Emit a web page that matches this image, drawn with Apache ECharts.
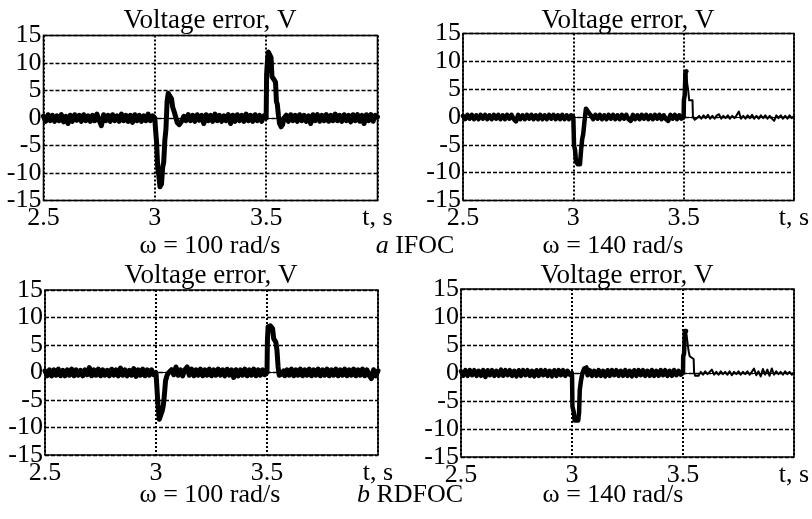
<!DOCTYPE html>
<html>
<head>
<meta charset="utf-8">
<script src="https://cdn.jsdelivr.net/npm/echarts@6/dist/echarts.min.js"></script>
<style>html,body{margin:0;padding:0;background:#fff}#c{width:812px;height:519px}</style>
</head>
<body>
<div id="c"></div>
<script>
// ---------- tick labels / text ----------
const yTicks = [-15, -10, -5, 0, 5, 10, 15];
const xTicks = [2.5, 3, 3.5, 4];
const xLastLabel = 't, s';
const panelTitle = 'Voltage error, V';
const speedLabels = ['ω = 100 rad/s', 'ω = 140 rad/s', 'ω = 100 rad/s', 'ω = 140 rad/s'];
const methodLabels = [['a', 'IFOC'], ['b', 'RDFOC']];

// ---------- (a) IFOC, ω = 100 rad/s ----------
const ifoc100 = [
[2.50,0.3],[2.51,-0.6],[2.52,0.6],[2.53,-0.5],[2.54,0.5],[2.55,-0.6],[2.56,0.4],[2.57,-0.5],[2.58,0.6],[2.59,-0.7],
[2.60,0.3],[2.61,-1.0],[2.62,0.5],[2.63,-0.6],[2.64,0.6],[2.65,-0.4],[2.66,0.5],[2.67,-0.6],[2.68,0.6],[2.69,-0.5],
[2.70,0.4],[2.71,-0.6],[2.72,0.5],[2.73,-0.5],[2.74,0.7],[2.75,-0.4],[2.76,-1.4],[2.77,0.6],[2.78,-0.5],[2.79,0.5],
[2.80,-0.6],[2.81,0.6],[2.82,-0.5],[2.83,0.4],[2.84,-0.6],[2.85,0.7],[2.86,-0.5],[2.87,0.5],[2.88,-0.6],[2.89,0.5],
[2.90,-0.8],[2.91,0.6],[2.92,-0.5],[2.93,0.5],[2.94,-0.6],[2.95,0.4],[2.96,-0.5],[2.97,0.7],[2.98,-0.5],[2.99,0.4],
[3.000,0],[3.003,-2],[3.008,-4.5],[3.013,-9],[3.018,-10.5],[3.023,-12.5],[3.030,-12],[3.035,-9],[3.040,-8],[3.045,-4],
[3.050,-2],[3.055,3],[3.060,4.5],[3.068,4.5],[3.075,3.5],[3.080,2],[3.088,1],[3.095,0],[3.100,-0.8],[3.110,-1.2],[3.120,-0.6],[3.130,0.3],
[3.14,-0.5],[3.15,0.6],[3.16,-0.5],[3.17,0.5],[3.18,-0.6],[3.19,0.6],[3.20,-0.4],[3.21,0.5],[3.22,-1.0],[3.23,0.6],
[3.24,-0.5],[3.25,0.5],[3.26,-0.6],[3.27,0.7],[3.28,-0.5],[3.29,0.5],[3.30,-0.6],[3.31,0.4],[3.32,-0.5],[3.33,0.6],
[3.34,-1.0],[3.35,0.5],[3.36,-0.6],[3.37,0.6],[3.38,-0.5],[3.39,0.5],[3.40,-0.6],[3.41,0.7],[3.42,-0.5],[3.43,0.5],
[3.44,-0.6],[3.45,0.6],[3.46,-0.5],[3.47,0.5],[3.48,-0.6],[3.49,0.4],
[3.500,0],[3.502,8],[3.506,10.5],[3.510,12],[3.518,12.3],[3.522,11],[3.526,7.5],[3.535,7],[3.542,6.5],[3.546,3],
[3.550,2.5],[3.555,0.5],[3.560,-1],[3.567,-1.6],[3.574,-1.2],[3.580,0],
[3.59,0.5],[3.60,-0.6],[3.61,0.6],[3.62,-0.5],[3.63,0.5],[3.64,-0.6],[3.65,0.6],[3.66,-0.5],[3.67,0.5],[3.68,-0.6],
[3.69,0.4],[3.70,-1.0],[3.71,0.6],[3.72,-0.5],[3.73,0.6],[3.74,-0.6],[3.75,0.5],[3.76,-0.5],[3.77,0.6],[3.78,-0.6],
[3.79,0.5],[3.80,-0.5],[3.81,0.7],[3.82,-0.5],[3.83,0.5],[3.84,-0.6],[3.85,0.6],[3.86,-0.5],[3.87,0.5],[3.88,-0.7],
[3.89,0.6],[3.90,-0.5],[3.91,0.6],[3.92,-0.6],[3.93,0.5],[3.94,-1.0],[3.95,0.6],[3.96,-0.5],[3.97,0.6],[3.98,-0.6],
[3.99,0.5],[4.00,0.2]
];

// ---------- (a) IFOC, ω = 140 rad/s ----------
const ifoc140Thick = [
[2.50,0.2],[2.51,-0.4],[2.52,0.4],[2.53,-0.3],[2.54,0.4],[2.55,-0.4],[2.56,0.3],[2.57,-0.4],[2.58,0.4],[2.59,-0.3],
[2.60,0.4],[2.61,-0.4],[2.62,0.3],[2.63,-0.4],[2.64,0.4],[2.65,-0.3],[2.66,0.4],[2.67,-0.4],[2.68,0.3],[2.69,-0.4],
[2.70,0.4],[2.71,-0.3],[2.72,0.4],[2.73,-0.4],[2.74,-0.8],[2.75,0.4],[2.76,-0.4],[2.77,0.3],[2.78,-0.4],[2.79,0.4],
[2.80,-0.3],[2.81,0.4],[2.82,-0.4],[2.83,0.3],[2.84,-0.4],[2.85,0.4],[2.86,-0.4],[2.87,0.3],[2.88,-0.4],[2.89,0.4],
[2.90,-0.3],[2.91,0.4],[2.92,-0.4],[2.93,0.3],[2.94,-0.4],[2.95,0.4],[2.96,-0.4],[2.97,0.3],[2.98,-0.4],[2.99,0.3],
[3.000,0],[3.003,-5],[3.008,-6],[3.012,-8],[3.020,-8.5],[3.030,-8.5],[3.035,-6],[3.040,-4],[3.045,-3],[3.050,-1],
[3.057,1.5],[3.065,1.2],[3.075,0.5],[3.085,0],
[3.09,-0.4],[3.10,0.4],[3.11,-0.3],[3.12,0.4],[3.13,-0.4],[3.14,0.3],[3.15,-0.4],[3.16,0.4],[3.17,-0.3],[3.18,0.4],
[3.19,-0.4],[3.20,0.3],[3.21,-0.4],[3.22,0.4],[3.23,-0.3],[3.24,0.4],[3.25,-0.4],[3.26,-0.7],[3.27,0.4],[3.28,-0.4],
[3.29,0.3],[3.30,-0.4],[3.31,0.4],[3.32,-0.3],[3.33,0.4],[3.34,-0.4],[3.35,0.3],[3.36,-0.4],[3.37,0.4],[3.38,-0.3],
[3.39,0.4],[3.40,-0.4],[3.41,0.3],[3.42,-0.4],[3.43,-0.7],[3.44,0.4],[3.45,-0.3],[3.46,0.4],[3.47,-0.4],[3.48,0.3],
[3.49,-0.3],
[3.500,0],[3.501,3],[3.505,4],[3.508,8],[3.512,8.2]
];
const ifoc140Thin = [
[3.512,8.2],[3.516,6],[3.520,5],[3.525,3],[3.540,3],[3.542,0],[3.550,-0.5],[3.555,-0.8],[3.560,-0.2],
[3.57,0.2],[3.58,-0.3],[3.59,0.3],[3.60,-0.2],[3.61,0.4],[3.62,-0.3],[3.63,0.2],[3.64,-0.3],[3.65,0.3],[3.66,0.5],
[3.67,-0.3],[3.68,0.2],[3.69,-0.2],[3.70,0.3],[3.71,-0.3],[3.72,0.2],[3.73,-0.2],[3.74,0.3],[3.75,1.0],[3.76,-0.3],
[3.77,0.2],[3.78,-0.3],[3.79,0.3],[3.80,-0.2],[3.81,0.4],[3.82,-0.3],[3.83,0.2],[3.84,-0.3],[3.85,0.3],[3.86,-0.2],
[3.87,0.3],[3.88,-0.3],[3.89,0.2],[3.90,-0.3],[3.91,-0.7],[3.92,0.3],[3.93,-0.2],[3.94,0.3],[3.95,-0.3],[3.96,0.2],
[3.97,-0.3],[3.98,0.3],[3.99,-0.2],[4.00,0.2]
];

// ---------- (b) RDFOC, ω = 100 rad/s ----------
const rdfoc100 = [
[2.50,0.3],[2.51,-0.6],[2.52,0.5],[2.53,-0.6],[2.54,0.5],[2.55,-0.5],[2.56,0.6],[2.57,-0.6],[2.58,0.4],[2.59,-0.6],
[2.60,0.5],[2.61,-0.5],[2.62,0.6],[2.63,-0.6],[2.64,0.5],[2.65,-0.5],[2.66,0.4],[2.67,-0.6],[2.68,0.5],[2.69,-0.4],
[2.70,0.9],[2.71,-0.6],[2.72,0.5],[2.73,-0.5],[2.74,0.6],[2.75,-0.6],[2.76,0.5],[2.77,-0.5],[2.78,0.4],[2.79,-0.6],
[2.80,0.6],[2.81,-0.5],[2.82,0.5],[2.83,-0.6],[2.84,0.8],[2.85,-0.5],[2.86,0.5],[2.87,-0.6],[2.88,0.4],[2.89,-0.5],
[2.90,0.7],[2.91,-0.7],[2.92,0.5],[2.93,-0.5],[2.94,0.6],[2.95,-0.6],[2.96,0.5],[2.97,-0.5],[2.98,0.5],[2.99,-0.4],
[3.000,0],[3.003,-2],[3.006,-4],[3.010,-6.5],[3.015,-8.5],[3.022,-8.5],[3.028,-7],[3.033,-6],[3.038,-4],[3.043,-1.5],
[3.050,-0.5],[3.058,0],
[3.07,0.5],[3.08,-0.4],[3.09,1.0],[3.10,-0.5],[3.11,0.5],[3.12,-0.6],[3.13,0.5],[3.14,1.0],[3.15,-0.5],[3.16,0.6],
[3.17,-0.6],[3.18,0.5],[3.19,-0.5],[3.20,0.6],[3.21,-0.6],[3.22,0.5],[3.23,-0.5],[3.24,0.6],[3.25,-0.6],[3.26,0.5],
[3.27,-0.5],[3.28,0.6],[3.29,-0.5],[3.30,0.5],[3.31,-0.6],[3.32,0.6],[3.33,-0.5],[3.34,0.5],[3.35,-0.9],[3.36,0.5],
[3.37,-0.6],[3.38,0.5],[3.39,-0.5],[3.40,0.6],[3.41,-0.6],[3.42,0.5],[3.43,-0.5],[3.44,0.6],[3.45,-0.6],[3.46,0.5],
[3.47,-0.5],[3.48,0.5],[3.49,-0.4],
[3.500,0],[3.502,6],[3.505,8.3],[3.515,8.5],[3.525,8],[3.530,6.2],[3.540,5.5],[3.545,4],[3.550,1],[3.555,-0.5],
[3.565,-0.3],[3.575,0.3],
[3.58,-0.6],[3.59,0.5],[3.60,-0.5],[3.61,0.6],[3.62,-0.6],[3.63,0.5],[3.64,-0.5],[3.65,0.6],[3.66,-0.6],[3.67,0.5],
[3.68,-0.5],[3.69,0.6],[3.70,-0.6],[3.71,0.5],[3.72,-0.5],[3.73,0.6],[3.74,-0.6],[3.75,0.5],[3.76,-0.5],[3.77,0.6],
[3.78,-0.6],[3.79,0.5],[3.80,-0.5],[3.81,0.6],[3.82,-0.6],[3.83,0.5],[3.84,-0.5],[3.85,0.6],[3.86,-0.6],[3.87,0.5],
[3.88,-0.5],[3.89,0.6],[3.90,-0.6],[3.91,0.5],[3.92,-0.5],[3.93,0.6],[3.94,-0.6],[3.95,0.5],[3.96,-0.5],[3.97,-1.1],
[3.98,0.5],[3.99,-0.6],[4.00,0.3]
];

// ---------- (b) RDFOC, ω = 140 rad/s ----------
const rdfoc140Thick = [
[2.50,0.3],[2.51,-0.5],[2.52,0.5],[2.53,-0.5],[2.54,0.5],[2.55,-0.4],[2.56,0.5],[2.57,-0.5],[2.58,0.4],[2.59,-0.5],
[2.60,0.5],[2.61,-0.7],[2.62,0.5],[2.63,-0.4],[2.64,0.5],[2.65,-0.5],[2.66,0.4],[2.67,-0.5],[2.68,0.6],[2.69,-0.5],
[2.70,0.5],[2.71,-0.4],[2.72,0.5],[2.73,-0.5],[2.74,0.4],[2.75,-0.6],[2.76,0.5],[2.77,-0.5],[2.78,0.5],[2.79,-0.4],
[2.80,0.5],[2.81,-0.5],[2.82,0.4],[2.83,-0.6],[2.84,0.5],[2.85,-0.5],[2.86,0.5],[2.87,-0.4],[2.88,0.5],[2.89,-0.5],
[2.90,0.4],[2.91,-0.6],[2.92,0.5],[2.93,-0.5],[2.94,0.5],[2.95,-0.4],[2.96,0.5],[2.97,-0.5],[2.98,0.4],[2.99,-0.3],
[3.000,0],[3.002,-6],[3.008,-7],[3.012,-8.5],[3.028,-8.5],[3.032,-7],[3.035,-3],[3.040,-1.5],[3.047,0],[3.055,0.8],
[3.065,1],
[3.07,-0.4],[3.08,0.5],[3.09,-0.5],[3.10,0.4],[3.11,-0.5],[3.12,0.5],[3.13,-0.5],[3.14,0.4],[3.15,-0.6],[3.16,0.5],
[3.17,-0.5],[3.18,0.5],[3.19,-0.4],[3.20,0.5],[3.21,-0.5],[3.22,0.4],[3.23,-0.5],[3.24,0.5],[3.25,-0.5],[3.26,0.4],
[3.27,-0.6],[3.28,0.5],[3.29,-0.5],[3.30,0.5],[3.31,-0.4],[3.32,0.5],[3.33,-0.5],[3.34,0.4],[3.35,-0.5],[3.36,0.5],
[3.37,-0.5],[3.38,0.4],[3.39,-0.5],[3.40,0.5],[3.41,-0.4],[3.42,0.5],[3.43,-0.5],[3.44,0.4],[3.45,-0.5],[3.46,0.5],
[3.47,-0.4],[3.48,0.4],[3.49,-0.3],
[3.500,0],[3.501,3],[3.505,3.5],[3.508,7.5],[3.514,7.5]
];
const rdfoc140Thin = [
[3.514,7.5],[3.520,5.5],[3.525,4],[3.530,3],[3.548,2.5],[3.550,0],[3.555,-0.5],[3.560,-0.2],
[3.57,-0.5],[3.58,0.2],[3.59,-0.3],[3.60,0.3],[3.61,-0.2],[3.62,0.2],[3.63,0.6],[3.64,-0.3],[3.65,0.2],[3.66,-0.3],
[3.67,0.3],[3.68,-0.2],[3.69,0.2],[3.70,-0.3],[3.71,0.3],[3.72,-0.4],[3.73,0.2],[3.74,-0.2],[3.75,0.3],[3.76,-0.3],
[3.77,0.2],[3.78,-0.2],[3.79,0.3],[3.80,-0.3],[3.81,0.2],[3.82,0.8],[3.83,-0.4],[3.84,0.3],[3.85,-0.6],[3.86,0.7],
[3.87,-0.3],[3.88,0.6],[3.89,-0.5],[3.90,0.8],[3.91,-0.3],[3.92,0.3],[3.93,-0.2],[3.94,0.2],[3.95,-0.3],[3.96,0.3],
[3.97,-0.2],[3.98,0.2],[3.99,-0.3],[4.00,0.1]
];

// ---------- layout ----------
const FONT = "'Liberation Serif', 'Times New Roman', serif";
const grids = [
  {left: 43.5, top: 35.5, width: 334, height: 165},
  {left: 463, top: 33.5, width: 331, height: 167},
  {left: 45, top: 290, width: 333, height: 165},
  {left: 461, top: 289, width: 333, height: 168}
];

const chart = echarts.init(document.getElementById('c'), null, {renderer: 'canvas'});

const xAxes = grids.map((g, i) => ({
  type: 'value', gridIndex: i, min: xTicks[0], max: xTicks[xTicks.length - 1], interval: 0.5,
  axisLine: {show: false}, axisTick: {show: false},
  splitLine: {show: true, lineStyle: {color: '#000', width: 2, type: [2, 2]}},
  axisLabel: {
    show: true, margin: 5, color: '#000', fontFamily: FONT, fontSize: 26,
    showMinLabel: true, showMaxLabel: true,
    formatter: v => (Math.abs(v - xTicks[xTicks.length - 1]) < 1e-9 ? xLastLabel : String(v))
  }
}));
const yAxes = grids.map((g, i) => ({
  type: 'value', gridIndex: i, min: yTicks[0], max: yTicks[yTicks.length - 1], interval: 5,
  axisLine: {show: false}, axisTick: {show: false},
  splitLine: {show: true, lineStyle: {color: '#000', width: 1.3, type: [4, 2]}},
  axisLabel: {show: true, margin: 2, color: '#000', fontFamily: FONT, fontSize: 26,
    showMinLabel: true, showMaxLabel: true}
}));

function lineSeries(data, idx, width, withZero) {
  const s = {
    type: 'line', xAxisIndex: idx, yAxisIndex: idx, data: data,
    showSymbol: false, symbol: 'none', silent: true,
    lineStyle: {color: '#000', width: width, join: 'round', cap: 'round'},
    z: 5
  };
  if (withZero) {
    s.markLine = {
      silent: true, symbol: 'none', label: {show: false},
      lineStyle: {color: '#000', width: 1, type: 'solid'},
      data: [{yAxis: 0}], z: 3
    };
  }
  return s;
}

const series = [
  lineSeries(ifoc100, 0, 5, true),
  lineSeries(ifoc140Thick, 1, 4.5, true),
  lineSeries(ifoc140Thin, 1, 2, false),
  lineSeries(rdfoc100, 2, 5, true),
  lineSeries(rdfoc140Thick, 3, 4.5, true),
  lineSeries(rdfoc140Thin, 3, 2, false)
];

function txt(text, x, y, size, rich) {
  const st = {text: text, x: x, y: y, align: 'center', verticalAlign: 'middle',
    font: size + "px " + FONT, fill: '#000'};
  if (rich) st.rich = rich;
  return {type: 'text', style: st, z: 10, silent: true};
}
const italicRich = {i: {fontStyle: 'italic', fontFamily: FONT, fontSize: 26, color: '#000'},
                    n: {fontFamily: FONT, fontSize: 26, color: '#000'}};

const graphics = [
  txt(panelTitle, 210, 21, 27),
  txt(panelTitle, 628, 21, 27),
  txt(panelTitle, 211, 276, 27),
  txt(panelTitle, 627, 276, 27),
  txt(speedLabels[0], 210, 246, 26),
  txt(speedLabels[1], 613, 246, 26),
  txt(speedLabels[2], 210, 495, 26),
  txt(speedLabels[3], 613, 495, 26),
  txt('{i|' + methodLabels[0][0] + '}{n| ' + methodLabels[0][1] + '}', 415, 246, 26, italicRich),
  txt('{i|' + methodLabels[1][0] + '}{n| ' + methodLabels[1][1] + '}', 410, 495, 26, italicRich)
];

chart.setOption({
  animation: false,
  backgroundColor: '#fff',
  grid: grids.map(g => Object.assign({show: true, borderColor: '#000', borderWidth: 1.6,
    backgroundColor: 'transparent', containLabel: false, outerBoundsMode: 'none'}, g)),
  xAxis: xAxes,
  yAxis: yAxes,
  series: series,
  graphic: graphics
});
</script>
</body>
</html>
